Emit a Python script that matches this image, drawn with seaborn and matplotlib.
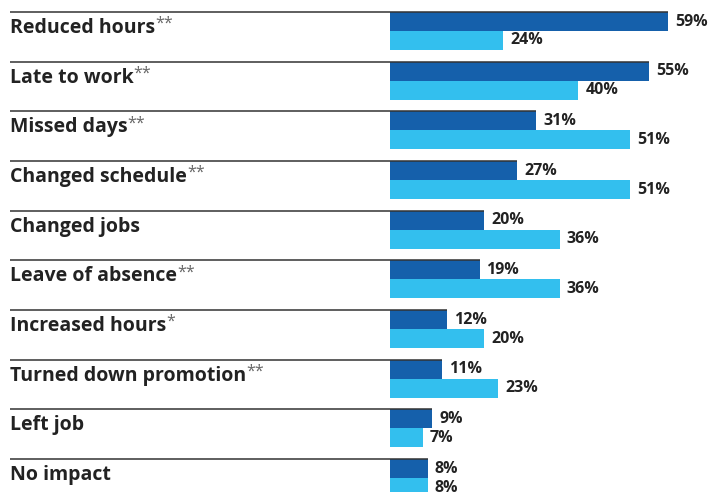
import matplotlib
matplotlib.use("Agg")
import matplotlib.pyplot as plt
import seaborn as sns
import pandas as pd

categories = ["Reduced hours", "Late to work", "Missed days", "Changed schedule",
              "Changed jobs", "Leave of absence", "Increased hours",
              "Turned down promotion", "Left job", "No impact"]
marks = ["**", "**", "**", "**", "", "**", "*", "**", "", ""]
series_1 = [59, 55, 31, 27, 20, 19, 12, 11, 9, 8]
series_2 = [24, 40, 51, 51, 36, 36, 20, 23, 7, 8]
series_names = ["Group 1", "Group 2"]
colors = ["#1560AB", "#33BFEE"]

df = pd.DataFrame({
    "category": categories * 2,
    "value": series_1 + series_2,
    "series": [series_names[0]] * len(categories) + [series_names[1]] * len(categories),
})

sns.set_theme(style="white")
plt.rcParams["font.family"] = ["Open Sans", "DejaVu Sans"]

fig = plt.figure(figsize=(7.08, 4.92), dpi=100)
ax = fig.add_axes([0, 0, 1, 1])

W = 0.765
sns.barplot(data=df, x="value", y="category", hue="series", orient="h",
            palette=colors, saturation=1, width=W, dodge=True,
            linewidth=0, edgecolor="none", legend=False, ax=ax, errorbar=None)

pxu = 278 / 59.0
ax.set_xlim(-390 / pxu, (708 - 390) / pxu)
unit = 49.67
ax.set_ylim((492 - 31) / unit, -31 / unit)
ax.axis("off")

half = W / 4
x_left = (10 - 390) / pxu
for i, cat in enumerate(categories):
    top = i - W / 2
    ax.plot([x_left, series_1[i]], [top, top], color="#333333", lw=1.1,
            solid_capstyle="butt", zorder=3)
    t = ax.text(x_left, i + 0.04, cat, fontsize=14, fontweight="bold",
                color="#222222", va="baseline", ha="left")
    if marks[i]:
        ax.annotate(marks[i], xy=(1, 1), xycoords=t, xytext=(0, 1.5),
                    textcoords="offset points", fontsize=11.5, color="#666666",
                    va="top", ha="left")
    ax.text(series_1[i] + 7 / pxu, i - half, f"{series_1[i]}%", fontsize=11.5,
            fontweight="bold", color="#222222", va="center", ha="left")
    ax.text(series_2[i] + 7 / pxu, i + half, f"{series_2[i]}%", fontsize=11.5,
            fontweight="bold", color="#222222", va="center", ha="left")

fig.savefig("out.png", dpi=100)
